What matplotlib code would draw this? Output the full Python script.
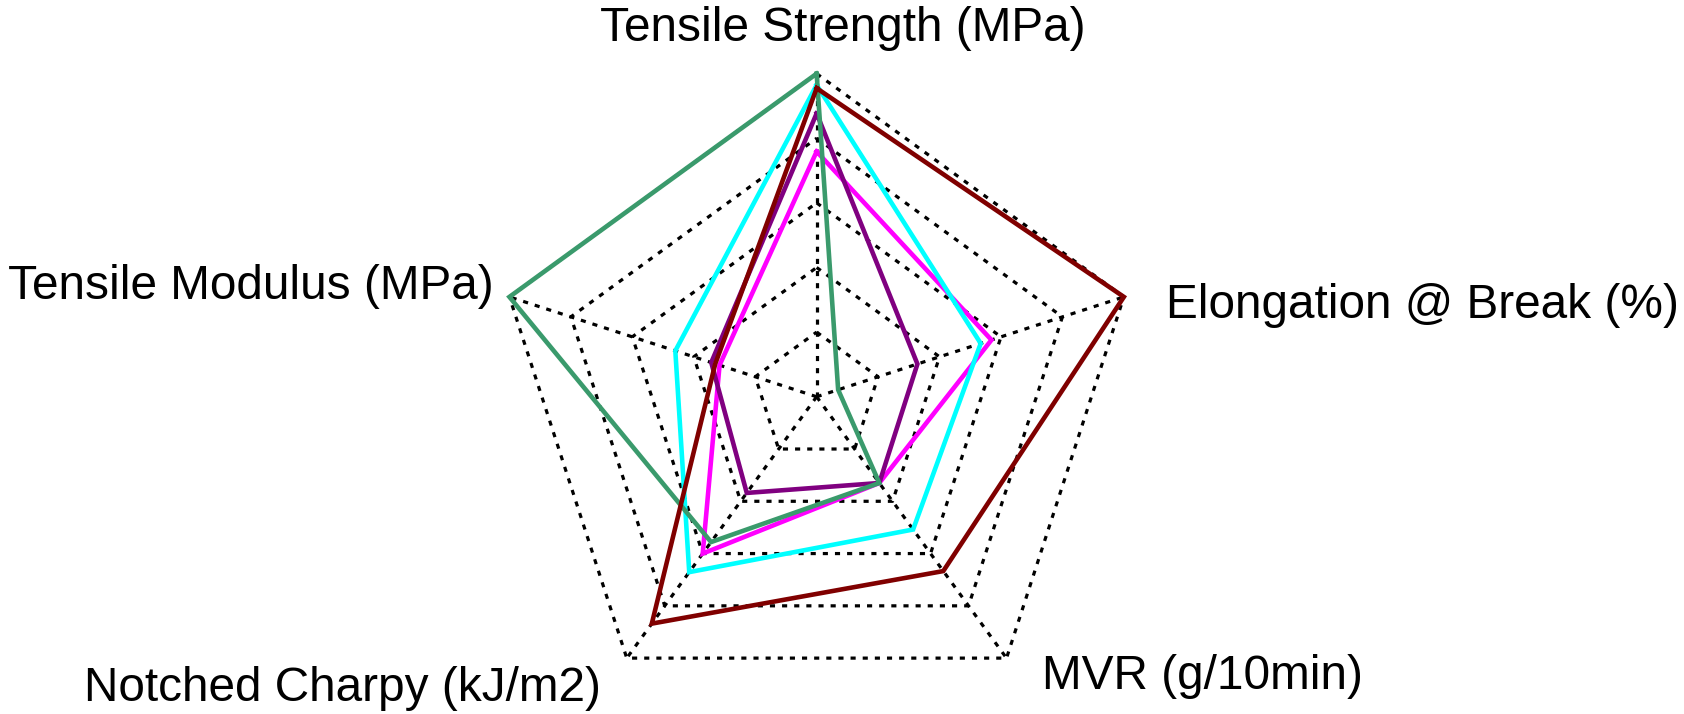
import numpy as np
import matplotlib
matplotlib.use("Agg")
from matplotlib import pyplot as plt

plt.rcParams['font.family'] = ['Liberation Sans', 'DejaVu Sans']

# Properties on the radar, clockwise from the top
labels = ['Tensile Strength (MPa)', 'Elongation @ Break (%)', 'MVR (g/10min)',
          'Notched Charpy (kJ/m2)', 'Tensile Modulus (MPa)']

# Normalised scores (0 = centre, 1 = outer ring) for each grade
green = [1.00, 0.07, 0.33, 0.556, 1.00]
cyan = [0.965, 0.534, 0.508, 0.671, 0.46]
magenta = [0.759, 0.569, 0.33, 0.60, 0.316]
purple = [0.877, 0.328, 0.33, 0.368, 0.343]
darkred = [0.955, 1.00, 0.667, 0.868, 0.33]

series = [(magenta, '#ff00ff'), (cyan, '#00ffff'), (purple, '#800080'),
          (green, '#3a9a6c'), (darkred, '#800000')]

n_rings = 5

# axis angles, starting at the top and going clockwise
angles = np.pi / 2 - 2 * np.pi * np.arange(len(labels)) / len(labels)


def to_xy(vals):
    vals = np.asarray(vals, dtype=float)
    x = vals * np.cos(angles)
    y = vals * np.sin(angles)
    return np.append(x, x[0]), np.append(y, y[0])


fig = plt.figure(figsize=(16.84, 7.14), dpi=100)
ax = fig.add_axes([0, 0, 1, 1])
ax.set_xlim(-2.528, 2.685)
ax.set_ylim(-0.982, 1.228)
ax.axis('off')

# dotted pentagon grid and spokes
grid_style = dict(color='black', lw=2.3, linestyle=(0, (1.6, 2.2)), zorder=1)
for k in range(1, n_rings + 1):
    gx, gy = to_xy([k / n_rings] * len(labels))
    ax.plot(gx, gy, **grid_style)
for a in angles:
    ax.plot([0, np.cos(a)], [0, np.sin(a)], **grid_style)

for vals, col in series:
    sx, sy = to_xy(vals)
    ax.plot(sx, sy, color=col, lw=3.3, solid_joinstyle='miter', zorder=3)

# axis labels
label_pos = [(0.08, 1.155, 'center'), (1.082, 0.297, 'left'), (0.697, -0.849, 'left'),
             (-0.667, -0.889, 'right'), (-0.999, 0.357, 'right')]
for text, (lx, ly, ha) in zip(labels, label_pos):
    ax.text(lx, ly, text, ha=ha, va='center_baseline', fontsize=34.4, color='black')

fig.savefig('out.png', dpi=100)
